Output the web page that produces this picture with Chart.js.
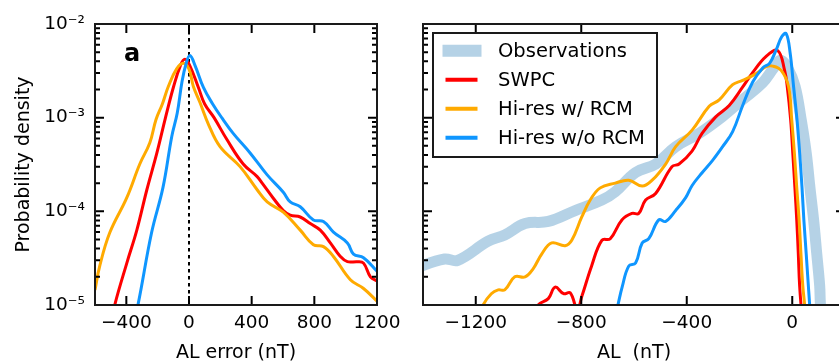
<!DOCTYPE html>
<html>
<head>
<meta charset="utf-8">
<script src="https://cdn.jsdelivr.net/npm/chart.js@4.4.1/dist/chart.umd.min.js"></script>
<style>
  html, body { margin: 0; padding: 0; background: #fff; overflow: hidden; }
  body { width: 839px; height: 364px; position: relative; }
  canvas { position: absolute; top: 0; }
  #errChart { left: 0; }
  #alChart { left: 410px; }
</style>
</head>
<body>
<canvas id="errChart" width="410" height="364"></canvas>
<canvas id="alChart" width="440" height="364"></canvas>
<script>
// shared axis ticks
const yTicks = [1e-5, 1e-4, 1e-3, 1e-2];
const yTickLabels = ['10\u207B\u2075', '10\u207B\u2074', '10\u207B\u00B3', '10\u207B\u00B2'];
const errXTicks = [-400, 0, 400, 800, 1200];
const errXLabels = ['\u2212400', '0', '400', '800', '1200'];
const alXTicks = [-1200, -800, -400, 0];
const alXLabels = ['\u22121200', '\u2212800', '\u2212400', '0'];
const seriesNames = ['Observations', 'SWPC', 'Hi-res w/ RCM', 'Hi-res w/o RCM'];

// panel a: distribution of AL error (nT)
const errSwpcX = [-500, -474, -397, -333, -269, -205, -150, -100, -55, -26, 5, 60, 100, 160, 243, 346, 435, 467, 538, 602, 646, 710, 774, 838, 902, 966, 1011, 1075, 1114, 1158, 1200];
const errSwpcY = [6e-6, 1.0e-5, 2.8e-5, 6.3e-5, 1.7e-4, 4.2e-4, 1.0e-3, 2.1e-3, 3.6e-3, 4.2e-3, 3.6e-3, 2.1e-3, 1.4e-3, 1.0e-3, 5.8e-4, 3.2e-4, 2.35e-4, 2.0e-4, 1.38e-4, 1.02e-4, 9.1e-5, 8.7e-5, 7.4e-5, 6.3e-5, 4.6e-5, 3.3e-5, 2.9e-5, 2.9e-5, 2.8e-5, 2.0e-5, 1.8e-5];
const errRcmX = [-600, -570, -506, -397, -314, -250, -211, -170, -132, -80, -36, 0, 28, 70, 124, 198, 326, 435, 499, 602, 710, 794, 858, 922, 1030, 1114, 1200];
const errRcmY = [1.45e-5, 2.6e-5, 5.9e-5, 1.4e-4, 3.2e-4, 5.4e-4, 9.5e-4, 1.4e-3, 2.15e-3, 3.3e-3, 3.8e-3, 3.3e-3, 2.15e-3, 1.45e-3, 8.5e-4, 4.9e-4, 3.0e-4, 1.7e-4, 1.26e-4, 9.8e-5, 6.3e-5, 4.4e-5, 4.2e-5, 3.3e-5, 1.86e-5, 1.5e-5, 1.1e-5];
const errNoRcmX = [-360, -326, -239, -166, -110, -75, -45, -20, 6, 40, 92, 150, 209, 282, 390, 499, 602, 646, 710, 794, 858, 922, 1011, 1050, 1114, 1200];
const errNoRcmY = [6e-6, 1.0e-5, 5.9e-5, 1.8e-4, 6.3e-4, 1.12e-3, 2.4e-3, 3.7e-3, 4.6e-3, 3.55e-3, 2.1e-3, 1.41e-3, 1.0e-3, 6.8e-4, 4.2e-4, 2.45e-4, 1.6e-4, 1.26e-4, 1.12e-4, 8.1e-5, 7.8e-5, 6.0e-5, 4.6e-5, 3.5e-5, 3.2e-5, 2.3e-5];

// panel b: distribution of AL (nT)
const alObsX = [-1440, -1407, -1318, -1268, -1153, -1090, -1013, -925, -823, -722, -671, -594, -518, -442, -353, -266, -189, -113, -70, -45, -15, 11, 34, 53, 67, 81, 93, 104, 107, 118];
const alObsY = [2.3e-5, 2.6e-5, 3.1e-5, 3.0e-5, 4.8e-5, 5.6e-5, 7.4e-5, 7.8e-5, 1.02e-4, 1.32e-4, 1.62e-4, 2.6e-4, 3.2e-4, 4.9e-4, 6.8e-4, 1.02e-3, 1.55e-3, 2.35e-3, 3.4e-3, 4.1e-3, 3.3e-3, 2.15e-3, 9.5e-4, 4.2e-4, 1.8e-4, 8.1e-5, 3.5e-5, 1.6e-5, 1.0e-5, 5e-6];
const alSwpcX = [-1000, -963, -925, -899, -867, -842, -815, -798, -761, -722, -690, -646, -608, -582, -556, -518, -456, -429, -380, -342, -290, -239, -189, -151, -99, -55, -29, -19, -6, 2, 10, 17, 23, 28, 36];
const alSwpcY = [6e-6, 1.0e-5, 1.17e-5, 1.55e-5, 1.32e-5, 1.35e-5, 9e-6, 1.23e-5, 2.6e-5, 4.9e-5, 5.1e-5, 8.1e-5, 9.5e-5, 9.5e-5, 1.32e-4, 1.55e-4, 3.0e-4, 3.2e-4, 4.4e-4, 6.8e-4, 1.02e-3, 1.35e-3, 2.1e-3, 3.0e-3, 4.5e-3, 5.2e-3, 3.2e-3, 2.15e-3, 9.5e-4, 4.2e-4, 1.8e-4, 8.1e-5, 3.5e-5, 1.6e-5, 8e-6];
const alRcmX = [-1200, -1172, -1141, -1115, -1090, -1052, -1013, -982, -950, -912, -861, -836, -798, -766, -728, -671, -620, -569, -531, -480, -442, -379, -315, -277, -226, -188, -137, -99, -74, -42, -14, -2, 8, 17, 26, 33, 40, 47, 52];
const alRcmY = [6e-6, 1.0e-5, 1.32e-5, 1.45e-5, 1.45e-5, 2.0e-5, 2.0e-5, 2.45e-5, 3.5e-5, 4.6e-5, 4.3e-5, 4.9e-5, 8.7e-5, 1.32e-4, 1.78e-4, 2.0e-4, 2.15e-4, 1.86e-4, 2.15e-4, 3.2e-4, 4.9e-4, 7.4e-4, 1.32e-3, 1.55e-3, 2.25e-3, 2.5e-3, 2.95e-3, 3.5e-3, 3.55e-3, 3.2e-3, 2.15e-3, 9.5e-4, 4.2e-4, 1.8e-4, 8.1e-5, 3.5e-5, 1.6e-5, 1.0e-5, 6e-6];
const alNoRcmX = [-680, -661, -645, -620, -594, -569, -544, -506, -480, -442, -404, -379, -341, -302, -264, -226, -188, -150, -112, -86, -61, -40, -23, -8, 5, 18, 28, 37, 44, 53, 66, 72];
const alNoRcmY = [6e-6, 1.0e-5, 1.55e-5, 2.6e-5, 2.8e-5, 4.6e-5, 5.1e-5, 8.1e-5, 7.8e-5, 1.02e-4, 1.4e-4, 1.9e-4, 2.6e-4, 3.5e-4, 4.9e-4, 7.1e-4, 1.35e-3, 2.4e-3, 3.4e-3, 3.8e-3, 5.3e-3, 7.3e-3, 7.9e-3, 4.9e-3, 2.15e-3, 9.5e-4, 4.2e-4, 1.8e-4, 8.1e-5, 3.5e-5, 1.0e-5, 6e-6];

const OBS = 'rgba(31,119,180,0.33)';
const RED = '#ff0000';
const ORANGE = '#ffaa00';
const BLUE = '#0f96ff';

Chart.defaults.font.family = 'DejaVu Sans';
Chart.defaults.font.size = 18.5;
Chart.defaults.color = '#000';
Chart.defaults.animation = false;

const pts = (xs, ys) => xs.map((x, i) => ({ x: x, y: ys[i] }));

function line(label, xs, ys, color, width, order) {
  return {
    label: label,
    data: pts(xs, ys),
    borderColor: color,
    borderWidth: width,
    pointRadius: 0,
    fill: false,
    tension: 0.4,
    clip: 0,
    order: order
  };
}

// frame round the plot area with inward ticks on all four sides
const frameTicks = {
  id: 'frameTicks',
  afterDatasetsDraw(chart) {
    const { ctx, chartArea: a, scales: { x, y } } = chart;
    ctx.save();
    ctx.strokeStyle = '#000';
    ctx.lineWidth = 2;
    ctx.beginPath();
    x.ticks.forEach(t => {
      const px = x.getPixelForValue(t.value);
      ctx.moveTo(px, a.top); ctx.lineTo(px, a.top + 9);
      ctx.moveTo(px, a.bottom); ctx.lineTo(px, a.bottom - 9);
    });
    const lo = Math.round(Math.log10(y.min)), hi = Math.round(Math.log10(y.max));
    for (let e = lo; e <= hi; e++) {
      for (let m = 1; m <= 9; m++) {
        if (e === hi && m > 1) break;
        const py = y.getPixelForValue(m * Math.pow(10, e));
        const len = m === 1 ? 9 : 5;
        ctx.moveTo(a.left, py); ctx.lineTo(a.left + len, py);
        ctx.moveTo(a.right, py); ctx.lineTo(a.right - len, py);
      }
    }
    ctx.stroke();
    ctx.strokeStyle = '#1a1a1a';
    ctx.strokeRect(a.left, a.top, a.right - a.left, a.bottom - a.top);
    ctx.restore();
  }
};

// dotted line at zero error, and the panel letter
const zeroLine = {
  id: 'zeroLine',
  beforeDatasetsDraw(chart) {
    const { ctx, chartArea: a, scales: { x } } = chart;
    const px = x.getPixelForValue(0);
    ctx.save();
    ctx.strokeStyle = '#000';
    ctx.lineWidth = 2;
    ctx.setLineDash([3.5, 3.5]);
    ctx.beginPath();
    ctx.moveTo(px, a.top); ctx.lineTo(px, a.bottom);
    ctx.stroke();
    ctx.restore();
  },
  afterDraw(chart) {
    const ctx = chart.ctx;
    ctx.save();
    ctx.font = 'bold 24px "DejaVu Sans"';
    ctx.fillStyle = '#000';
    ctx.textBaseline = 'alphabetic';
    ctx.fillText('a', 124, 61);
    ctx.restore();
  }
};

// boxed legend in the upper left of the plot area
const boxLegend = {
  id: 'boxLegend',
  afterDraw(chart) {
    const { ctx, chartArea: a } = chart;
    const x0 = a.left + 10, y0 = a.top + 9, w = 224, h = 124;
    ctx.save();
    ctx.fillStyle = '#fff';
    ctx.fillRect(x0, y0, w, h);
    ctx.strokeStyle = '#1a1a1a';
    ctx.lineWidth = 2;
    ctx.strokeRect(x0, y0, w, h);
    ctx.font = '19.5px "DejaVu Sans"';
    ctx.textBaseline = 'middle';
    ctx.fillStyle = '#000';
    chart.data.datasets.forEach((ds, i) => {
      const cy = y0 + 17.7 + i * 29;
      const thick = i === 0;
      ctx.strokeStyle = ds.borderColor;
      ctx.lineWidth = thick ? 12 : 4;
      ctx.beginPath();
      ctx.moveTo(x0 + (thick ? 9.5 : 12.5), cy);
      ctx.lineTo(x0 + (thick ? 48.5 : 44.5), cy);
      ctx.stroke();
      ctx.fillText(ds.label, x0 + 65, cy + 1);
    });
    ctx.restore();
  }
};

function xAxis(min, max, ticks, labels, title) {
  return {
    type: 'linear', min: min, max: max,
    afterBuildTicks: s => { s.ticks = ticks.map(v => ({ value: v })); },
    ticks: { callback: (v, i) => labels[i], padding: 7, maxRotation: 0, autoSkip: false },
    grid: { display: false, drawTicks: false, tickLength: 0 },
    border: { display: false },
    title: { display: true, text: title, font: { size: 19 }, padding: { top: 0, bottom: 0 } },
    afterFit: s => { s.height = 59; }
  };
}

function yAxis(withLabels, width) {
  return {
    type: 'logarithmic', min: 1e-5, max: 1e-2,
    afterBuildTicks: s => { s.ticks = yTicks.map(v => ({ value: v })); },
    ticks: { display: withLabels, callback: (v, i) => yTickLabels[i], padding: 10, autoSkip: false },
    grid: { display: false, drawTicks: false, tickLength: 0 },
    border: { display: false },
    title: { display: withLabels, text: 'Probability density', font: { size: 19 }, padding: { top: 13, bottom: 0 } },
    afterFit: s => { s.width = width; }
  };
}

const commonPlugins = { legend: { display: false }, tooltip: { enabled: false } };

new Chart(document.getElementById('errChart'), {
  type: 'line',
  data: {
    datasets: [
      line(seriesNames[1], errSwpcX, errSwpcY, RED, 3, 3),
      line(seriesNames[2], errRcmX, errRcmY, ORANGE, 3, 2),
      line(seriesNames[3], errNoRcmX, errNoRcmY, BLUE, 3, 1)
    ]
  },
  options: {
    responsive: false,
    layout: { padding: { top: 24, right: 33, left: 0, bottom: 0 } },
    scales: {
      x: xAxis(-600, 1200, errXTicks, errXLabels, 'AL error (nT)'),
      y: yAxis(true, 95)
    },
    plugins: commonPlugins
  },
  plugins: [zeroLine, frameTicks]
});

new Chart(document.getElementById('alChart'), {
  type: 'line',
  data: {
    datasets: [
      line(seriesNames[0], alObsX, alObsY, OBS, 11, 4),
      line(seriesNames[1], alSwpcX, alSwpcY, RED, 3, 3),
      line(seriesNames[2], alRcmX, alRcmY, ORANGE, 3, 2),
      line(seriesNames[3], alNoRcmX, alNoRcmY, BLUE, 3, 1)
    ]
  },
  options: {
    responsive: false,
    layout: { padding: { top: 24, right: 5, left: 0, bottom: 0 } },
    scales: {
      x: xAxis(-1400, 200, alXTicks, alXLabels, 'AL  (nT)'),
      y: yAxis(false, 13)
    },
    plugins: commonPlugins
  },
  plugins: [frameTicks, boxLegend]
});
</script>
</body>
</html>
